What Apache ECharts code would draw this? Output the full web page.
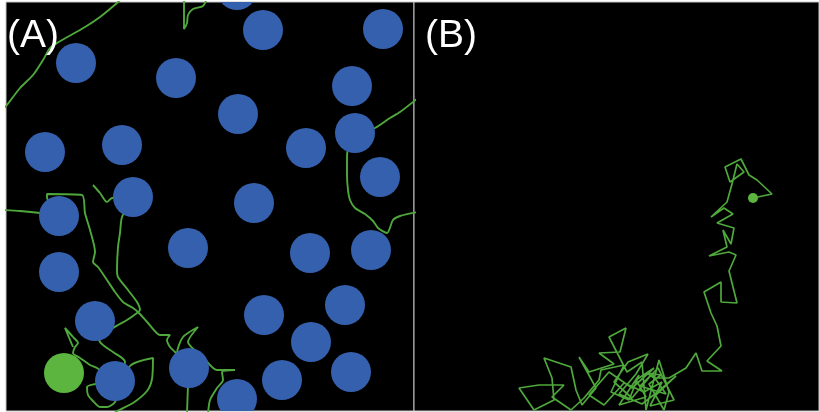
<!DOCTYPE html>
<html>
<head>
<meta charset="utf-8">
<script src="https://cdn.jsdelivr.net/npm/echarts@6/dist/echarts.min.js"></script>
<style>
  html, body { margin: 0; padding: 0; background: #ffffff; }
  #chart { width: 819px; height: 412px; }
</style>
</head>
<body>
<div id="chart"></div>
<script>
// Arena coordinates (arena units, origin at top-left corner of each panel)

// Panel A: obstacles (blue discs) and the agent (green disc)
const obstaclesA = [
  [70, 61], [170, 76], [257, 28], [231, -12], [377, 27], [346, 84], [232, 112],
  [349, 131], [300, 146], [39, 150], [116, 143], [374, 175], [127, 195], [248, 201],
  [53, 214], [182, 246], [304, 251], [365, 248], [53, 270], [258, 313], [339, 303],
  [89, 319], [305, 340], [183, 366], [109, 379], [276, 378], [345, 370], [231, 397]
];
const agentA = [[58, 371]];

// Panel A: trajectory fragments
const trailA1 = [[-4, 108], [1, 103], [14, 86], [27, 73], [37, 58], [44, 46], [51, 41], [79, 25], [94, 15], [111, 1], [116, -4]];
const trailA2 = [[178, -4], [178, 27], [181, 21], [182, 13], [187, 7], [197, 4], [201, -4]];
const trailA3 = [[412, 96], [394, 110], [384, 116], [369, 126], [356, 130], [342, 148], [341, 156], [341, 173], [342, 188], [344, 198], [349, 206], [359, 212], [367, 219], [372, 226], [381, 231], [387, 218], [394, 214], [412, 210]];
const trailA4 = [[-4, 208], [14, 209], [34, 211], [53, 214]];
const trailA5 = [[53, 214], [41, 195], [41, 192], [76, 193], [79, 211], [84, 228], [89, 250], [87, 260], [92, 265], [101, 278], [109, 290], [117, 300], [127, 306], [132, 310], [142, 321], [154, 333], [164, 333], [161, 338], [164, 345], [169, 350], [183, 366]];
const trailA6 = [[127, 195], [116, 215], [114, 231], [112, 245], [111, 268], [112, 275], [122, 288], [131, 300], [134, 308], [131, 311], [121, 318], [107, 326], [97, 336], [89, 319]];
const trailA7 = [[87, 183], [94, 191], [101, 200], [106, 196], [127, 195]];
const trailA8 = [[89, 319], [94, 340], [107, 350], [116, 356], [119, 360], [109, 379]];
const trailA9 = [[67, 345], [59, 326], [67, 335], [72, 341], [69, 345], [67, 351], [74, 356], [84, 363], [91, 366], [109, 379]];
const trailA10 = [[109, 379], [81, 385], [82, 393], [86, 398], [94, 405], [101, 405], [109, 400], [124, 364], [147, 356], [146, 377], [141, 389], [127, 401], [111, 409], [105, 414]];
const trailA11 = [[183, 366], [171, 351], [177, 335], [192, 325], [182, 340], [197, 355], [211, 368], [229, 368], [216, 370], [217, 378], [211, 386], [204, 398], [202, 412]];
const trailA12 = [[183, 366], [182, 383], [181, 412]];

// Panel B: random walk and its current position
const walkB = [
  [339, 196], [358, 192], [343, 178], [335, 173], [327, 157], [311, 165], [316, 180], [330, 170],
  [323, 162], [318, 182], [313, 200], [297, 215], [310, 206], [319, 212], [303, 221], [320, 226],
  [317, 242], [309, 228], [313, 245], [295, 254], [315, 250], [322, 253], [315, 269], [323, 301],
  [307, 300], [307, 280], [290, 290], [297, 311], [303, 324], [307, 344], [293, 359], [308, 369],
  [288, 369], [282, 351], [272, 366], [255, 376], [240, 376], [233, 371], [247, 373], [235, 382],
  [250, 408], [255, 390], [245, 358], [232, 408], [228, 360], [213, 370], [195, 335], [212, 326],
  [206, 350], [185, 351], [200, 362], [175, 370], [165, 355], [182, 386], [168, 403], [162, 388],
  [157, 365], [130, 356], [138, 376], [140, 398], [120, 408], [105, 386], [125, 383], [150, 383],
  [138, 395], [157, 408], [170, 396], [185, 378], [187, 368], [210, 363], [197, 390], [215, 398],
  [225, 373], [205, 403], [232, 395], [222, 378], [240, 366], [218, 386], [195, 370], [175, 393],
  [190, 403], [210, 381], [230, 390], [248, 380], [236, 404], [260, 398], [244, 366], [226, 384],
  [252, 392], [238, 372], [218, 396], [200, 380], [214, 360], [234, 352], [222, 372], [205, 392],
  [228, 402], [246, 388], [262, 374], [240, 395]
];
const positionB = [[339, 196]];

const panelLabels = ['(A)', '(B)'];

// Styling
const BLUE = '#3560ad';
const AGENT_GREEN = '#5cb53f';
const TRAIL_GREEN = '#4fa83b';
const DISC_RADIUS = 20;   // arena units
const DOT_RADIUS = 5;     // arena units

const chart = echarts.init(document.getElementById('chart'), null, { renderer: 'canvas' });

function discSeries(data, color, radius, axisIndex) {
  return {
    type: 'custom',
    xAxisIndex: axisIndex,
    yAxisIndex: axisIndex,
    clip: true,
    data: data,
    z: 5,
    renderItem: function (params, api) {
      const c = api.coord([api.value(0), api.value(1)]);
      const r = api.size([radius, 0])[0];
      return { type: 'circle', shape: { cx: c[0], cy: c[1], r: r }, style: { fill: color } };
    }
  };
}

function trailSeries(data, axisIndex, smooth, width) {
  return {
    type: 'line',
    xAxisIndex: axisIndex,
    yAxisIndex: axisIndex,
    data: data,
    symbol: 'none',
    smooth: smooth,
    clip: true,
    z: 2,
    lineStyle: { color: TRAIL_GREEN, width: width },
    silent: true
  };
}

const hiddenAxis = {
  type: 'value',
  axisLine: { show: false },
  axisTick: { show: false },
  axisLabel: { show: false },
  splitLine: { show: false }
};

const labelStyle = { color: '#ffffff', fontSize: 39, fontWeight: 'normal', fontFamily: 'Liberation Sans' };

const trailsA = [trailA1, trailA2, trailA3, trailA4, trailA5, trailA6, trailA7, trailA8, trailA9, trailA10, trailA11, trailA12];

const option = {
  animation: false,
  backgroundColor: '#ffffff',
  title: [
    { text: panelLabels[0], left: 7, top: 17, padding: 0, textStyle: labelStyle },
    { text: panelLabels[1], left: 425, top: 17, padding: 0, textStyle: labelStyle }
  ],
  grid: [
    { left: 6, top: 2, width: 408, height: 409, show: true, backgroundColor: '#000000', borderColor: '#c4c4c4', borderWidth: 1 },
    { left: 414, top: 2, width: 405, height: 409, show: true, backgroundColor: '#000000', borderColor: '#c4c4c4', borderWidth: 1 }
  ],
  xAxis: [
    Object.assign({}, hiddenAxis, { gridIndex: 0, min: 0, max: 408 }),
    Object.assign({}, hiddenAxis, { gridIndex: 1, min: 0, max: 405 })
  ],
  yAxis: [
    Object.assign({}, hiddenAxis, { gridIndex: 0, min: 0, max: 409, inverse: true }),
    Object.assign({}, hiddenAxis, { gridIndex: 1, min: 0, max: 409, inverse: true })
  ],
  series: [].concat(
    trailsA.map(t => trailSeries(t, 0, 0.25, 1.9)),
    [discSeries(obstaclesA, BLUE, DISC_RADIUS, 0),
     discSeries(agentA, AGENT_GREEN, DISC_RADIUS, 0),
     trailSeries(walkB, 1, false, 1.7),
     discSeries(positionB, AGENT_GREEN, DOT_RADIUS, 1)]
  )
};

chart.setOption(option);
</script>
</body>
</html>
